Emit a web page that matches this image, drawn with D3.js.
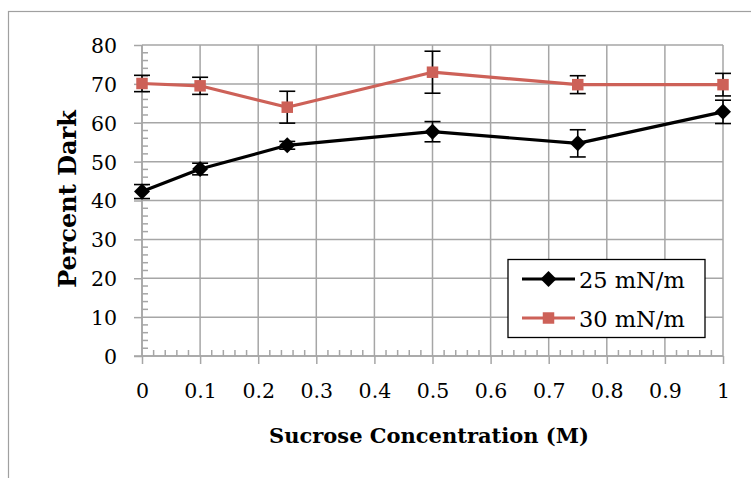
<!DOCTYPE html>
<html><head><meta charset="utf-8">
<script src="https://cdn.jsdelivr.net/npm/d3@7"></script>
<style>
html,body{margin:0;padding:0;background:#fff;}
svg{display:block;}
text{font-family:"DejaVu Serif","Liberation Serif",serif;}
</style></head>
<body><svg id="c" width="751" height="478"></svg>
<script>
const concentrations = [0, 0.1, 0.25, 0.5, 0.75, 1];
const dark25 = [42.3, 48.1, 54.2, 57.7, 54.7, 62.8];
const err25 = [1.8, 1.5, 1.0, 2.6, 3.5, 3.0];
const dark30 = [70.1, 69.5, 64.0, 73.0, 69.8, 69.8];
const err30 = [2.1, 2.2, 4.1, 5.4, 2.3, 2.9];
const seriesNames = ["25 mN/m", "30 mN/m"];
const xTicks = [0, 0.1, 0.2, 0.3, 0.4, 0.5, 0.6, 0.7, 0.8, 0.9, 1];
const yTicks = [0, 10, 20, 30, 40, 50, 60, 70, 80];
const xTitle = "Sucrose Concentration (M)";
const yTitle = "Percent Dark";

const svg = d3.select("#c");
const grid = "#a6a6a6";
const L = 142, R = 723, T = 45, B = 356;
const x = d3.scaleLinear().domain([0, 1]).range([L, R]);
const y = d3.scaleLinear().domain([0, 80]).range([B, T]);

// outer frame (only top and left visible)
svg.append("rect").attr("x", 8.5).attr("y", 11.5).attr("width", 760).attr("height", 480)
  .attr("fill", "none").attr("stroke", "#a0a0a0").attr("stroke-width", 1.2);

// gridlines
const g = svg.append("g");
g.selectAll("line.h").data(yTicks).join("line")
  .attr("x1", L).attr("x2", R).attr("y1", d => y(d)).attr("y2", d => y(d))
  .attr("stroke", grid).attr("stroke-width", 1.5);
g.selectAll("line.v").data(xTicks).join("line")
  .attr("y1", T).attr("y2", B).attr("x1", d => x(d)).attr("x2", d => x(d))
  .attr("stroke", grid).attr("stroke-width", 1.5);

// minor ticks
const yMinor = d3.range(0, 80.001, 2).filter(v => v % 10 !== 0);
g.selectAll("line.ym").data(yMinor).join("line")
  .attr("x1", L).attr("x2", L + 6).attr("y1", d => y(d)).attr("y2", d => y(d))
  .attr("stroke", grid).attr("stroke-width", 1.5);
const xMinor = d3.range(0, 50).map(i => i * 0.02).filter((v, i) => i % 5 !== 0);
g.selectAll("line.xm").data(xMinor).join("line")
  .attr("y1", B).attr("y2", B - 6).attr("x1", d => x(d)).attr("x2", d => x(d))
  .attr("stroke", grid).attr("stroke-width", 1.5);

// axes
const yAxis = d3.axisLeft(y).tickValues(yTicks).tickSize(8).tickPadding(17);
const xAxis = d3.axisBottom(x).tickValues(xTicks).tickSize(8).tickPadding(19)
  .tickFormat(d => d3.format("")(+d.toFixed(1)));
const ya = svg.append("g").attr("transform", `translate(${L},0)`).call(yAxis);
const xa = svg.append("g").attr("transform", `translate(0,${B})`).call(xAxis);
[ya, xa].forEach(a => {
  a.select(".domain").attr("stroke", grid).attr("stroke-width", 1.5);
  a.selectAll(".tick line").attr("stroke", grid).attr("stroke-width", 1.5);
  a.selectAll("text").attr("fill", "#000").style("font-family", "'DejaVu Serif',serif").style("font-size", "20.5px");
});
ya.select(".domain").attr("d", `M0,${T}V${B}`);
xa.select(".domain").attr("d", `M${L - 8},0H${R}`);
ya.selectAll(".tick text").attr("dy", "0.36em");

// titles
svg.append("text").attr("x", 429).attr("y", 443).attr("text-anchor", "middle")
  .style("font-size", "21px").style("font-weight", "bold").text(xTitle);
svg.append("text").attr("transform", "translate(76,199) rotate(-90)").attr("text-anchor", "middle")
  .style("font-size", "24px").style("font-weight", "bold").text(yTitle);

// series
const diamond = { draw(ctx, size) { const r = Math.sqrt(size / 2); ctx.moveTo(0, -r); ctx.lineTo(r, 0); ctx.lineTo(0, r); ctx.lineTo(-r, 0); ctx.closePath(); } };
const series = [
  {name: seriesNames[0], vals: dark25, err: err25, color: "#000000", sym: diamond, size: 128},
  {name: seriesNames[1], vals: dark30, err: err30, color: "#cd6158", sym: d3.symbolSquare, size: 132}
];
const line = d3.line().x(d => x(d[0])).y(d => y(d[1]));
series.forEach(s => {
  const pts = concentrations.map((c, i) => [c, s.vals[i], s.err[i]]);
  svg.append("path").datum(pts).attr("d", line).attr("fill", "none")
    .attr("stroke", s.color).attr("stroke-width", 3.2).attr("stroke-linejoin", "round");
});
series.forEach(s => {
  const pts = concentrations.map((c, i) => [c, s.vals[i], s.err[i]]);
  const eg = svg.append("g").attr("stroke", "#000").attr("stroke-width", 1.6);
  pts.forEach(p => {
    eg.append("line").attr("x1", x(p[0])).attr("x2", x(p[0])).attr("y1", y(p[1] - p[2])).attr("y2", y(p[1] + p[2]));
    [p[1] - p[2], p[1] + p[2]].forEach(v => eg.append("line").attr("x1", x(p[0]) - 8).attr("x2", x(p[0]) + 8).attr("y1", y(v)).attr("y2", y(v)));
  });
});
series.forEach(s => {
  const pts = concentrations.map((c, i) => [c, s.vals[i]]);
  svg.append("g").selectAll("path").data(pts).join("path")
    .attr("transform", d => `translate(${x(d[0])},${y(d[1])})`)
    .attr("d", d3.symbol().type(s.sym).size(s.size)).attr("fill", s.color);
});

// legend
const lg = svg.append("g");
lg.append("rect").attr("x", 508).attr("y", 259.5).attr("width", 197).attr("height", 78)
  .attr("fill", "#fff").attr("stroke", "#000").attr("stroke-width", 1.3);
series.forEach((s, i) => {
  const cy = 279 + i * 39;
  lg.append("line").attr("x1", 522).attr("x2", 575).attr("y1", cy).attr("y2", cy)
    .attr("stroke", s.color).attr("stroke-width", 3.2);
  lg.append("path").attr("transform", `translate(548.5,${cy})`)
    .attr("d", d3.symbol().type(s.sym).size(s.size)).attr("fill", s.color);
  lg.append("text").attr("x", 579).attr("y", cy + 8.5).style("font-size", "22.5px").text(s.name);
});
</script></body></html>
